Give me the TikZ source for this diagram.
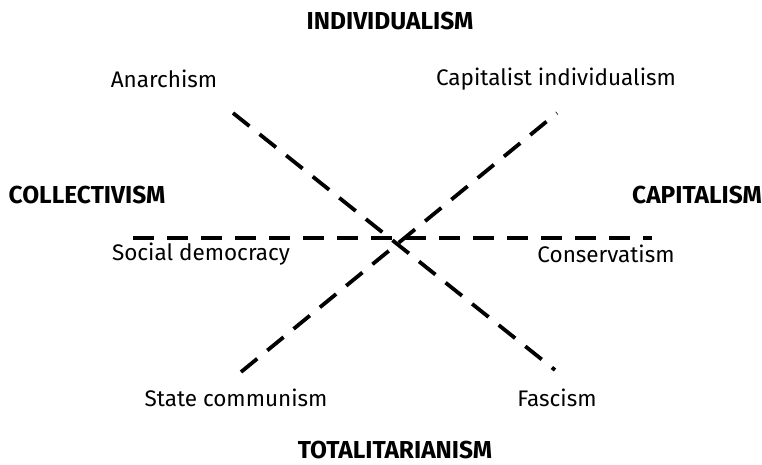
\documentclass[tikz,border=0pt]{standalone}
\usepackage{fontspec}
\setmainfont{Fira Sans}
\tikzset{
  axis/.style={line width=3.8pt, dash pattern=on 21pt off 13pt},
  pole/.style={font=\fontsize{24.5}{26}\selectfont\bfseries},
  ideology/.style={font=\fontsize{22.5}{24}\selectfont}
}
\begin{document}
\begin{tikzpicture}[x=1pt,y=-1pt]
\useasboundingbox (0,0) rectangle (762,464);

% poles
\node[pole] (indiv) at (390,21) {INDIVIDUALISM};
\node[pole] (collect) at (87,195) {COLLECTIVISM};
\node[pole] (capital) at (697,195) {CAPITALISM};
\node[pole] (total) at (395,450) {TOTALITARIANISM};

% ideologies
\node[ideology] (anarch) at (164,79) {Anarchism};
\node[ideology] (capind) at (556,79) {Capitalist individualism};
\node[ideology] (socdem) at (201,254) {Social democracy};
\node[ideology] (conserv) at (606,254) {Conservatism};
\node[ideology] (statecom) at (236,398) {State communism};
\node[ideology] (fasc) at (557,398) {Fascism};

% axis end points
\coordinate (h1) at (133,238);
\coordinate (h2) at (652,238);
\coordinate (d1) at (233,113);
\coordinate (d2) at (555,370);
\coordinate (e1) at (241,372);
\coordinate (e2) at (557,113);

% dashed axes
\draw[axis] (h1) -- (h2);
\draw[axis] (d1) -- (d2);
\draw[axis] (e1) -- (e2);

\end{tikzpicture}
\end{document}
